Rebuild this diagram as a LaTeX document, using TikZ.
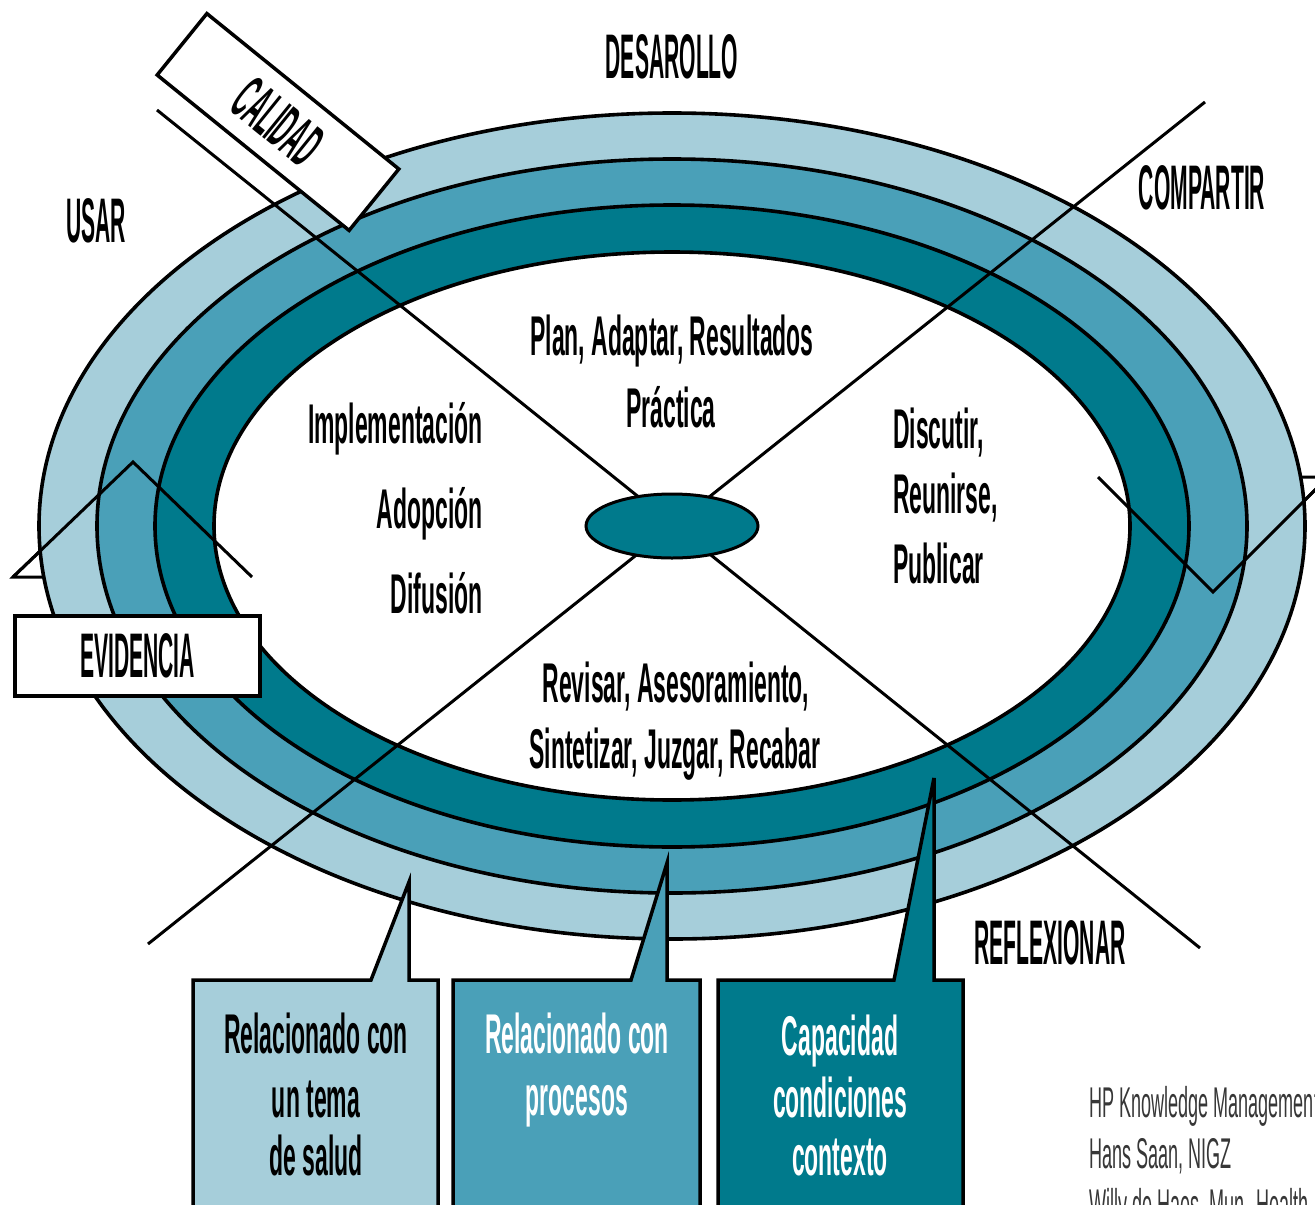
\documentclass[tikz,border=0pt]{standalone}
\usepackage{fontspec}
\usetikzlibrary{shapes.geometric}
\newfontfamily\capsfont[FakeStretch=0.335]{Liberation Sans}
\newfontfamily\heavyfont[FakeStretch=0.41]{Liberation Sans}
\newfontfamily\credfont[FakeStretch=0.42]{Liberation Sans}
\definecolor{bandlight}{RGB}{166,206,218}
\definecolor{bandmid}{RGB}{74,160,184}
\definecolor{banddark}{RGB}{0,122,140}
\definecolor{credgray}{RGB}{55,55,55}
\begin{document}
\begin{tikzpicture}[x=1pt,y=-1pt,
  outline/.style={draw=black,line width=3.6pt},
  crossline/.style={draw=black,line width=3pt},
  capslabel/.style={font=\capsfont\bfseries\fontsize{63}{63}\selectfont,inner sep=0pt},
  ringtext/.style={font=\heavyfont\bfseries\fontsize{56}{56}\selectfont,inner sep=0pt},
  boxtext/.style={font=\heavyfont\bfseries\fontsize{56}{56}\selectfont,inner sep=0pt,anchor=base},
  credit/.style={font=\credfont\fontsize{43}{43}\selectfont,inner sep=0pt,anchor=base west,text=credgray},
  tagbox/.style={draw=black,fill=white,line width=3.5pt,inner sep=0pt},
  callout/.style={draw=black,line width=3.5pt,line join=miter}
]
\fill[white] (0,0) rectangle (1315,1205);
\useasboundingbox (0,0) rectangle (1315,1205);

% triangles (full, beneath the rings)
\coordinate (lt1) at (13,577);
\coordinate (lt2) at (133,462);
\coordinate (lt3) at (252,577);
\coordinate (rt1) at (1098,477);
\coordinate (rt2) at (1213,592);
\coordinate (rt3) at (1328,477);
\draw[crossline] (lt1)--(lt2)--(lt3)--cycle;
\draw[crossline] (rt1)--(rt2)--(rt3)--cycle;

% rings
\coordinate (c) at (672,526);
\filldraw[outline,fill=bandlight] (c) ellipse [x radius=633pt, y radius=413pt];
\filldraw[outline,fill=bandmid] (c) ellipse [x radius=575pt, y radius=367pt];
\filldraw[outline,fill=banddark] (c) ellipse [x radius=517pt, y radius=321pt];
\filldraw[outline,fill=white] (c) ellipse [x radius=458pt, y radius=274pt];

% triangle sides over rings
\draw[crossline,line join=miter] (lt1)--(lt2)--(lt3);
\draw[crossline,line join=miter] (rt1)--(rt2)--(rt3);

% cross lines
\coordinate (nw) at (157,110);
\coordinate (se) at (1200,948);
\coordinate (ne) at (1205,102);
\coordinate (sw) at (148,944);
\draw[crossline] (nw)--(se);
\draw[crossline] (ne)--(sw);

% hub
\node[ellipse,draw=black,line width=3pt,fill=banddark,minimum width=172pt,minimum height=64pt,inner sep=0pt] (hub) at (c) {};

% tag boxes
\node[tagbox,font=\capsfont\bfseries\fontsize{63}{63}\selectfont,rotate=-39,minimum width=247pt,minimum height=79pt] (calidad) at (278,122) {CALIDAD};
\node[tagbox,font=\capsfont\bfseries\fontsize{63}{63}\selectfont,minimum width=245pt,minimum height=80pt] (evidencia) at (137.5,656) {EVIDENCIA};

% callout boxes
\draw[callout,fill=bandlight] (193,1215) -- (193,980) -- (371,980) -- (409,882) -- (409,980) -- (438,980) -- (438,1215);
\draw[callout,fill=bandmid] (453,1215) -- (453,980) -- (631,980) -- (667,863) -- (667,980) -- (700,980) -- (700,1215);
\draw[callout,fill=banddark] (718,1215) -- (718,980) -- (894,980) -- (934,778) -- (934,980) -- (963,980) -- (963,1215);

% outer labels
\node[capslabel] (desarollo) at (672,57) {DESAROLLO};
\node[capslabel] (usar) at (96,221) {USAR};
\node[capslabel] (compartir) at (1202,188) {COMPARTIR};
\node[capslabel] (reflexionar) at (1050,943) {REFLEXIONAR};

% ring texts
\node[ringtext,anchor=base] (t1) at (672,355) {Plan, Adaptar, Resultados};
\node[ringtext,anchor=base] (t2) at (671,427) {Práctica};
\node[ringtext,anchor=base east] (t3) at (483,443) {Implementación};
\node[ringtext,anchor=base east] (t4) at (483,528) {Adopción};
\node[ringtext,anchor=base east] (t5) at (483,613) {Difusión};
\node[ringtext,anchor=base west] (t6) at (893,448) {Discutir,};
\node[ringtext,anchor=base west] (t7) at (893,513) {Reunirse,};
\node[ringtext,anchor=base west] (t8) at (893,583) {Publicar};
\node[ringtext,anchor=base] (t9) at (676,702) {Revisar, Asesoramiento,};
\node[ringtext,anchor=base] (t10) at (675,768) {Sintetizar, Juzgar, Recabar};

% box texts
\node[boxtext] (b1a) at (316,1053) {Relacionado con};
\node[boxtext] (b1b) at (316,1117) {un tema};
\node[boxtext] (b1c) at (316,1175) {de salud};
\node[boxtext,text=white] (b2a) at (577,1053) {Relacionado con};
\node[boxtext,text=white] (b2b) at (577,1115) {procesos};
\node[boxtext,text=white] (b3a) at (840,1055) {Capacidad};
\node[boxtext,text=white] (b3b) at (840,1117) {condiciones};
\node[boxtext,text=white] (b3c) at (840,1175) {contexto};

% credits
\node[credit] (cr1) at (1089,1117) {HP Knowledge Management};
\node[credit] (cr2) at (1089,1168) {Hans Saan, NIGZ};
\node[credit] (cr3) at (1089,1219) {Willy de Haes, Mun. Health};
\end{tikzpicture}
\end{document}
